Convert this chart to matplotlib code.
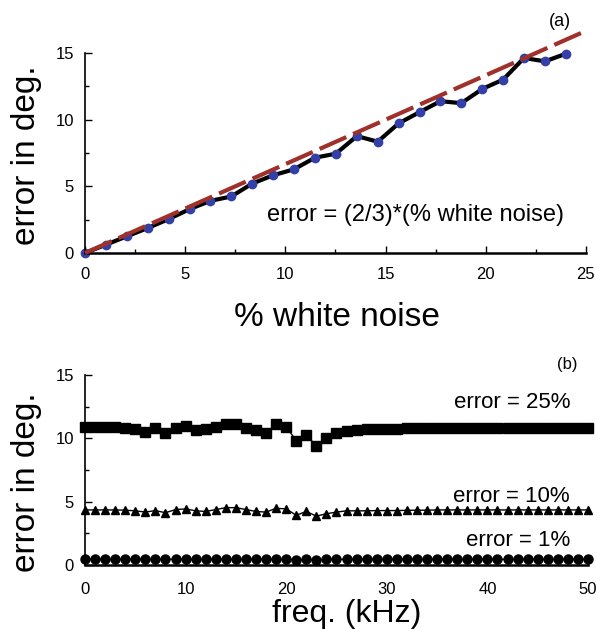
import numpy as np
import matplotlib
matplotlib.use("Agg")
import matplotlib.pyplot as plt
from matplotlib.ticker import MultipleLocator

plt.rcParams['font.family'] = ['Liberation Sans', 'DejaVu Sans']

# panel (a): error vs. white noise level
noise_pct = [0.00, 1.04, 2.09, 3.13, 4.17, 5.22, 6.26, 7.30, 8.35, 9.39, 10.43, 11.48,
             12.52, 13.57, 14.61, 15.65, 16.70, 17.74, 18.78, 19.83, 20.87, 21.91, 22.96, 24.00]
noise_err = [0.00, 0.62, 1.25, 1.87, 2.54, 3.29, 3.91, 4.24, 5.21, 5.83, 6.28, 7.15,
             7.45, 8.77, 8.35, 9.72, 10.57, 11.39, 11.24, 12.31, 13.01, 14.63, 14.38, 14.95]
fit_x = [0, 25]
fit_y = [0, 25 * 2 / 3]

# panel (b): error vs. frequency for three noise levels
freq_khz = list(range(0, 51))
err_25 = [10.90, 10.90, 10.90, 10.90, 10.82, 10.72, 10.50, 10.80, 10.40, 10.85,
          10.95, 10.65, 10.72, 10.90, 11.14, 11.14, 10.85, 10.65, 10.45, 11.10,
          10.90, 9.83, 10.27, 9.40, 10.07, 10.45, 10.60, 10.70, 10.72, 10.77,
          10.77, 10.77, 10.82, 10.85, 10.85, 10.85, 10.85, 10.85, 10.85, 10.85,
          10.85, 10.85, 10.85, 10.85, 10.85, 10.85, 10.85, 10.85, 10.85, 10.85, 10.85]
err_10 = [4.35, 4.35, 4.35, 4.35, 4.33, 4.28, 4.18, 4.30, 4.13, 4.38,
          4.43, 4.28, 4.23, 4.38, 4.53, 4.53, 4.38, 4.23, 4.18, 4.48,
          4.43, 3.93, 4.23, 3.86, 4.05, 4.18, 4.28, 4.28, 4.28, 4.30,
          4.30, 4.30, 4.32, 4.33, 4.33, 4.35, 4.35, 4.35, 4.35, 4.35,
          4.35, 4.35, 4.35, 4.35, 4.35, 4.35, 4.35, 4.35, 4.35, 4.35, 4.35]
err_1 = [0.45] * 21 + [0.40, 0.45, 0.40] + [0.45] * 27

fig = plt.figure(figsize=(5.97, 6.29), dpi=100)
ax1 = fig.add_axes([0.1424, 0.5978, 0.839, 0.3602])
ax2 = fig.add_axes([0.1424, 0.1017, 0.8425, 0.302])


def style_axes(ax, ymax_spine, xmax):
    for s in ['top', 'right']:
        ax.spines[s].set_visible(False)
    ax.spines['left'].set_bounds(0, ymax_spine)
    ax.spines['bottom'].set_bounds(0, xmax)
    ax.spines['left'].set_linewidth(1.2)
    ax.spines['bottom'].set_linewidth(1.8)
    ax.tick_params(which='both', direction='in', labelsize=12, width=1)
    ax.tick_params(which='major', length=5)
    ax.tick_params(which='minor', length=3)
    ax.tick_params(axis='y', pad=8)


# (a)
ax1.plot(fit_x, fit_y, color='#a0302a', lw=3, dashes=(7, 1.8), zorder=3, clip_on=False)
ax1.plot(noise_pct, noise_err, color='black', lw=3, marker='o', ms=6,
         mfc='#3340a8', mec='#3340a8', zorder=2, clip_on=False)
ax1.set_xlim(0, 25)
ax1.set_ylim(0, 17)
ax1.set_xticks([0, 5, 10, 15, 20, 25])
ax1.set_yticks([0, 5, 10, 15])
ax1.xaxis.set_minor_locator(MultipleLocator(2.5))
ax1.yaxis.set_minor_locator(MultipleLocator(2.5))
style_axes(ax1, 15, 25)
ax1.tick_params(axis='x', pad=10)
fig.text(415 / 597, 1 - 215 / 629, 'error = (2/3)*(% white noise)', fontsize=17,
         ha='center', va='center')
fig.text(560 / 597, 1 - 22 / 629, '(a)', fontsize=13, ha='center', va='center')
fig.text(337 / 597, 1 - 318 / 629, '% white noise', fontsize=24, ha='center', va='center')
fig.text(27 / 597, 1 - 155 / 629, 'error in deg.', fontsize=24, ha='center', va='center',
         rotation=90)

# (b)
ax2.plot(freq_khz, err_25, color='black', lw=1, marker='s', ms=6.5, clip_on=False)
ax2.plot(freq_khz, err_10, color='black', lw=1, marker='^', ms=6, clip_on=False)
ax2.plot(freq_khz, err_1, color='black', lw=1, marker='o', ms=6.5, clip_on=False)
ax2.set_xlim(0, 50)
ax2.set_ylim(0, 15)
ax2.set_xticks([0, 10, 20, 30, 40, 50])
ax2.set_yticks([0, 5, 10, 15])
ax2.yaxis.set_minor_locator(MultipleLocator(2.5))
style_axes(ax2, 15, 50)
ax2.tick_params(axis='x', pad=12)
fig.text(570 / 597, 1 - 403 / 629, 'error = 25%', fontsize=16, ha='right', va='center')
fig.text(570 / 597, 1 - 497 / 629, 'error = 10%', fontsize=16, ha='right', va='center')
fig.text(570 / 597, 1 - 541 / 629, 'error = 1%', fontsize=16, ha='right', va='center')
fig.text(567 / 597, 1 - 365 / 629, '(b)', fontsize=12, ha='center', va='center')
fig.text(347 / 597, 1 - 614 / 629, 'freq. (kHz)', fontsize=23, ha='center', va='center')
fig.text(27 / 597, 1 - 482 / 629, 'error in deg.', fontsize=24, ha='center', va='center',
         rotation=90)

fig.savefig('out.png', dpi=100)
